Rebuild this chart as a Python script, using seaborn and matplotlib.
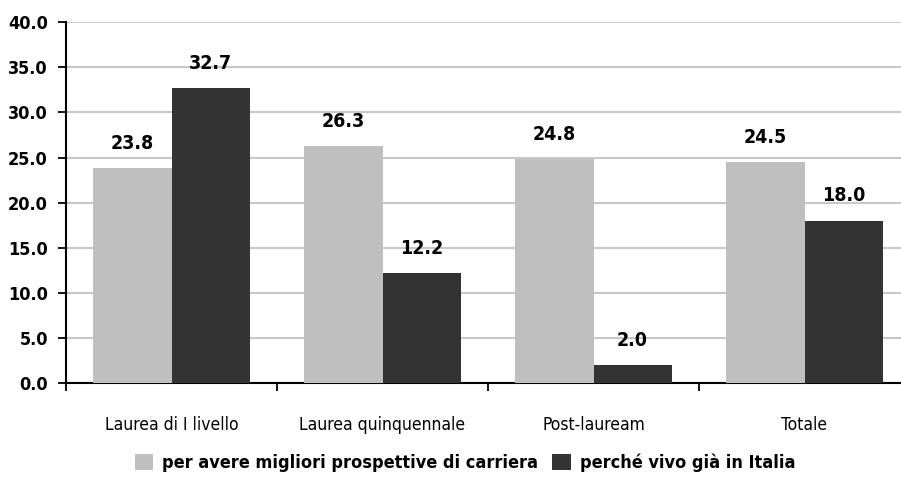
import matplotlib
matplotlib.use("Agg")
import matplotlib.pyplot as plt
import seaborn as sns
import pandas as pd
from matplotlib.patches import Patch

categories = ["Laurea di I livello", "Laurea quinquennale", "Post-lauream", "Totale"]
series_names = ["per avere migliori prospettive di carriera", "perché vivo già in Italia"]
carriera = [23.8, 26.3, 24.8, 24.5]
italia = [32.7, 12.2, 2.0, 18.0]
yticks = [0, 5, 10, 15, 20, 25, 30, 35, 40]

colors = ["#BFBFBF", "#333333"]

df = pd.DataFrame({
    "cat": categories * 2,
    "serie": [series_names[0]] * 4 + [series_names[1]] * 4,
    "val": carriera + italia,
})

sns.set_theme(style="white")
FONT = ["DejaVu Sans"]
plt.rcParams["font.family"] = FONT
plt.rcParams["font.stretch"] = "condensed"
plt.rcParams["text.color"] = "black"
plt.rcParams["xtick.color"] = "black"
plt.rcParams["ytick.color"] = "black"
plt.rcParams["xtick.labelcolor"] = "black"
plt.rcParams["ytick.labelcolor"] = "black"

fig = plt.figure(figsize=(9.01, 4.95), dpi=100)
W, H = 901, 495
left, right, top, bottom = 66, 910, 22.3, 383
ax = fig.add_axes([left / W, 1 - bottom / H, (right - left) / W, (bottom - top) / H])

sns.barplot(data=df, x="cat", y="val", hue="serie", palette=colors,
            width=0.74, saturation=1, ax=ax, legend=False, zorder=3,
            edgecolor="none", linewidth=0)

ax.set_ylim(0, 40)
ax.set_xlim(-0.5, 3.5)
ax.set_yticks(yticks)
ax.set_yticklabels([f"{v:.1f}" for v in yticks], fontsize=13, fontweight="bold",
                   fontstretch="condensed")
ax.yaxis.grid(True, color="#C8C8C8", linewidth=1.5, zorder=0)
ax.xaxis.grid(False)
ax.set_axisbelow(True)

ax.set_xticks(range(len(categories)))
ax.set_xticklabels(categories, fontsize=12.5, fontstretch="condensed")
ax.tick_params(axis="x", which="major", length=0, pad=24, bottom=True)
ax.set_xticks([i - 0.5 for i in range(len(categories) + 1)], minor=True)
ax.tick_params(axis="x", which="minor", length=6, width=1.3, color="black",
               direction="out", bottom=True)
ax.tick_params(axis="y", length=6, width=1.3, color="black", direction="out", pad=7, left=True)

ax.set_xlabel("")
ax.set_ylabel("")
for s in ["top", "right"]:
    ax.spines[s].set_visible(False)
for s in ["left", "bottom"]:
    ax.spines[s].set_color("black")
    ax.spines[s].set_linewidth(1.5)

for cont in ax.containers:
    ax.bar_label(cont, labels=[f"{v.get_height():.1f}" for v in cont], padding=11,
                 fontsize=14, fontweight="bold", color="black", fontstretch="condensed")

handles = [Patch(facecolor=c, edgecolor="none") for c in colors]
fig.legend(handles, series_names, loc="center", bbox_to_anchor=(465 / W, 1 - 463 / H),
           ncol=2, frameon=False, handlelength=1.0, handleheight=1.0, handletextpad=0.5,
           columnspacing=0.8,
           prop={"family": FONT, "weight": "bold", "size": 13, "stretch": "condensed"})

fig.savefig("out.png", dpi=100)
